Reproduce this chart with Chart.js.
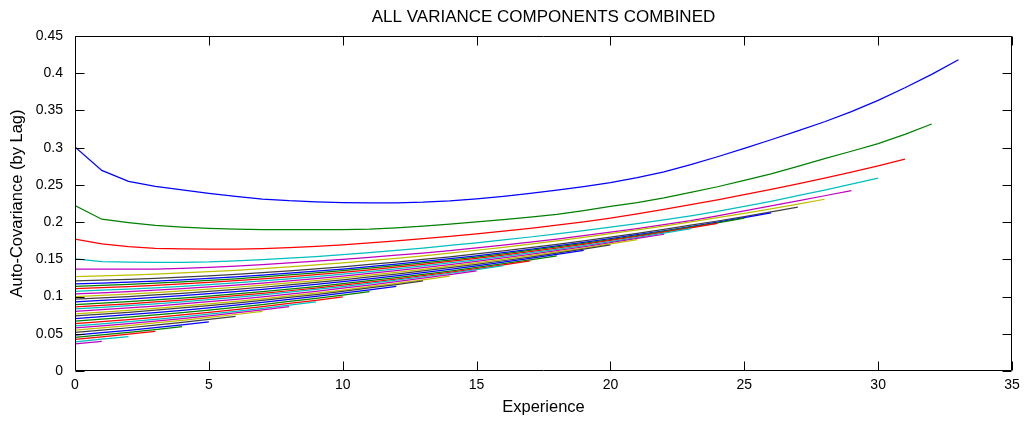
<!DOCTYPE html>
<html>
<head>
<meta charset="utf-8">
<script src="https://cdn.jsdelivr.net/npm/chart.js@4.4.1/dist/chart.umd.min.js"></script>
<style>
  html, body { margin: 0; padding: 0; background: #ffffff; }
  #wrap { width: 1027px; height: 422px; }
</style>
</head>
<body>
<div id="wrap"><canvas id="c" width="1027" height="422"></canvas></div>
<script>
// ---- data ----
const chartTitle = "ALL VARIANCE COMPONENTS COMBINED";
const xAxisLabel = "Experience";
const yAxisLabel = "Auto-Covariance (by Lag)";
const experience = [0,1,2,3,4,5,6,7,8,9,10,11,12,13,14,15,16,17,18,19,20,21,22,23,24,25,26,27,28,29,30,31,32,33];
const xTicks = [0,5,10,15,20,25,30,35];
const yTicks = [0,0.05,0.1,0.15,0.2,0.25,0.3,0.35,0.4,0.45];

const lag0 = [0.301,0.2695,0.2548,0.248,0.2433,0.2385,0.2345,0.231,0.2287,0.2272,0.2263,0.226,0.226,0.2268,0.2285,0.2312,0.2345,0.2385,0.243,0.2478,0.253,0.2598,0.2675,0.2772,0.2878,0.299,0.3106,0.3225,0.3348,0.3485,0.3635,0.3805,0.3985,0.418];
const lag1 = [0.2222,0.2039,0.1994,0.1955,0.1932,0.1915,0.1905,0.19,0.1898,0.1898,0.1898,0.1905,0.1922,0.1945,0.1972,0.2002,0.2035,0.2068,0.2105,0.2155,0.221,0.2262,0.2325,0.2398,0.2475,0.2562,0.2649,0.2748,0.2852,0.2952,0.3055,0.3178,0.3318];
const lag2 = [0.177,0.1707,0.1672,0.1648,0.164,0.1638,0.1638,0.1645,0.1658,0.1675,0.1695,0.172,0.1748,0.1778,0.1808,0.1842,0.1878,0.1916,0.1958,0.2004,0.2055,0.2112,0.2172,0.2235,0.23,0.2368,0.244,0.2515,0.2592,0.2672,0.2756,0.2845];
const lag3 = [0.1505,0.147,0.1462,0.146,0.146,0.1465,0.1478,0.1495,0.1515,0.1538,0.1563,0.159,0.162,0.1652,0.1686,0.1722,0.176,0.18,0.1842,0.1886,0.1932,0.198,0.2031,0.2085,0.2145,0.221,0.228,0.2355,0.243,0.251,0.259];
const lag4 = [0.137,0.1368,0.1367,0.1369,0.1378,0.1392,0.141,0.143,0.1452,0.1476,0.15,0.1527,0.1555,0.1585,0.1618,0.1653,0.169,0.173,0.1772,0.1817,0.1864,0.1913,0.1965,0.202,0.2085,0.215,0.2217,0.2285,0.2354,0.2424];
const lag5 = [0.1268,0.1277,0.1288,0.1301,0.1317,0.1334,0.1353,0.1375,0.1399,0.1424,0.1452,0.1482,0.1514,0.1548,0.1584,0.1622,0.1662,0.1705,0.1749,0.1795,0.1844,0.1895,0.1947,0.2002,0.2059,0.2118,0.2179,0.2242,0.2307];
const lag6 = [0.121,0.122,0.1231,0.1245,0.1261,0.1279,0.1299,0.1321,0.1346,0.1371,0.14,0.1431,0.1463,0.1498,0.1534,0.1573,0.1614,0.1657,0.1702,0.1748,0.1798,0.185,0.1902,0.1958,0.2015,0.2075,0.2137,0.22];
const lag7 = [0.117,0.1181,0.1193,0.1208,0.1225,0.1244,0.1265,0.1288,0.1314,0.134,0.137,0.1402,0.1435,0.1471,0.1508,0.1548,0.159,0.1634,0.168,0.1727,0.1778,0.1831,0.1884,0.1941,0.1999,0.206,0.2123];
const lag8 = [0.1138,0.115,0.1163,0.1179,0.1197,0.1217,0.1239,0.1263,0.129,0.1317,0.1348,0.1381,0.1415,0.1452,0.149,0.1531,0.1574,0.1619,0.1666,0.1714,0.1766,0.182,0.1874,0.1932,0.1991,0.2053];
const lag9 = [0.1106,0.1119,0.1133,0.115,0.1169,0.119,0.1213,0.1238,0.1266,0.1294,0.1326,0.136,0.1395,0.1433,0.1472,0.1514,0.1558,0.1604,0.1652,0.1701,0.1754,0.1809,0.1864,0.1923,0.1983];
const lag10 = [0.1071,0.1085,0.11,0.1118,0.1138,0.116,0.1184,0.121,0.1239,0.1268,0.1301,0.1336,0.1372,0.1411,0.1451,0.1494,0.1539,0.1586,0.1635,0.1685,0.1739,0.1795,0.1851,0.1911];
const lag11 = [0.1035,0.105,0.1066,0.1085,0.1106,0.1129,0.1154,0.1181,0.1211,0.1241,0.1275,0.1311,0.1348,0.1388,0.1429,0.1473,0.1519,0.1567,0.1617,0.1668,0.1723,0.178,0.1837];
const lag12 = [0.1,0.1016,0.1033,0.1053,0.1075,0.1099,0.1125,0.1153,0.1184,0.1215,0.125,0.1287,0.1325,0.1366,0.1408,0.1453,0.15,0.1549,0.16,0.1652,0.1708,0.1766];
const lag13 = [0.0965,0.0982,0.1,0.1021,0.1044,0.1069,0.1096,0.1125,0.1157,0.1189,0.1225,0.1263,0.1302,0.1344,0.1387,0.1433,0.1481,0.1531,0.1583,0.1636,0.1693];
const lag14 = [0.093,0.0948,0.0967,0.0989,0.1013,0.1039,0.1067,0.1097,0.113,0.1163,0.12,0.1239,0.1279,0.1322,0.1366,0.1413,0.1462,0.1513,0.1566,0.162];
const lag15 = [0.0893,0.0912,0.0932,0.0955,0.098,0.1007,0.1036,0.1067,0.1101,0.1135,0.1173,0.1213,0.1254,0.1298,0.1343,0.1391,0.1441,0.1493,0.1547];
const lag16 = [0.0862,0.0882,0.0903,0.0927,0.0953,0.0981,0.1011,0.1043,0.1078,0.1113,0.1152,0.1193,0.1235,0.128,0.1326,0.1375,0.1426,0.1479];
const lag17 = [0.0835,0.0856,0.0878,0.0903,0.093,0.0959,0.099,0.1023,0.1059,0.1095,0.1135,0.1177,0.122,0.1266,0.1313,0.1363,0.1415];
const lag18 = [0.0802,0.0824,0.0847,0.0873,0.0901,0.0931,0.0963,0.0997,0.1034,0.1071,0.1112,0.1155,0.1199,0.1246,0.1294,0.1345];
const lag19 = [0.0768,0.0791,0.0815,0.0842,0.0871,0.0902,0.0935,0.097,0.1008,0.1046,0.1088,0.1132,0.1177,0.1225,0.1274];
const lag20 = [0.074,0.0764,0.0789,0.0817,0.0847,0.0879,0.0913,0.0949,0.0988,0.1027,0.107,0.1115,0.1161,0.121];
const lag21 = [0.0705,0.073,0.0756,0.0785,0.0816,0.0849,0.0884,0.0921,0.0961,0.1001,0.1045,0.1091,0.1138];
const lag22 = [0.067,0.0696,0.0723,0.0753,0.0785,0.0819,0.0855,0.0893,0.0934,0.0975,0.102,0.1067];
const lag23 = [0.0635,0.0662,0.069,0.0721,0.0754,0.0789,0.0826,0.0865,0.0907,0.0949,0.0995];
const lag24 = [0.0605,0.0633,0.0662,0.0694,0.0728,0.0764,0.0802,0.0842,0.0885,0.0928];
const lag25 = [0.0578,0.0607,0.0637,0.067,0.0705,0.0742,0.0781,0.0822,0.0866];
const lag26 = [0.055,0.058,0.0611,0.0645,0.0681,0.0719,0.0759,0.0801];
const lag27 = [0.0518,0.0549,0.0581,0.0616,0.0653,0.0692,0.0733];
const lag28 = [0.0482,0.0514,0.0547,0.0583,0.0621,0.0661];
const lag29 = [0.0453,0.0486,0.052,0.0557,0.0596];
const lag30 = [0.0425,0.0459,0.0494,0.0532];
const lag31 = [0.0392,0.0427,0.0463];
const lag32 = [0.0363,0.0399];

const lagSeries = [lag0,lag1,lag2,lag3,lag4,lag5,lag6,lag7,lag8,lag9,lag10,lag11,lag12,lag13,lag14,lag15,lag16,lag17,lag18,lag19,lag20,lag21,lag22,lag23,lag24,lag25,lag26,lag27,lag28,lag29,lag30,lag31,lag32];
const lineColors = ['#0000ff','#008000','#ff0000','#00bfbf','#bf00bf','#bfbf00','#404040'];

// ---- chart ----
const FONT = '"Liberation Sans", Arial, Helvetica, sans-serif';

const datasets = lagSeries.map((vals, k) => ({
  label: 'Lag ' + k,
  data: vals.map((v, i) => ({ x: experience[i], y: v })),
  borderColor: lineColors[k % lineColors.length],
  backgroundColor: lineColors[k % lineColors.length],
  borderWidth: 1.25,
  pointRadius: 0,
  tension: 0,
  fill: false,
  order: 100 - k
}));

const boxTicks = {
  id: 'boxTicks',
  afterDraw(chart) {
    const { ctx, chartArea: a, scales } = chart;
    const xs = scales.x, ys = scales.y;
    const L = Math.round(a.left) + 0.5, R = Math.round(a.right) - 0.5;
    const T = Math.round(a.top) + 0.5, B = Math.round(a.bottom) - 0.5;
    ctx.save();
    ctx.strokeStyle = '#000000';
    ctx.lineWidth = 1;
    ctx.beginPath();
    ctx.rect(L, T, R - L, B - T);
    const tl = 9;
    xTicks.forEach(v => {
      const p = Math.round(xs.getPixelForValue(v)) + 0.5;
      ctx.moveTo(p, B); ctx.lineTo(p, B - tl);
      ctx.moveTo(p, T); ctx.lineTo(p, T + tl);
    });
    yTicks.forEach(v => {
      const p = Math.round(ys.getPixelForValue(v)) + 0.5;
      ctx.moveTo(L, p); ctx.lineTo(L + tl, p);
      ctx.moveTo(R, p); ctx.lineTo(R - tl, p);
    });
    ctx.stroke();
    ctx.restore();
  }
};

new Chart(document.getElementById('c'), {
  type: 'line',
  data: { datasets },
  options: {
    responsive: false,
    animation: false,
    devicePixelRatio: 1,
    layout: { padding: { left: 0, right: 15, top: 0, bottom: 0 } },
    plugins: {
      legend: { display: false },
      tooltip: { enabled: false },
      title: {
        display: true,
        fullSize: false,
        text: chartTitle,
        color: '#000000',
        font: { family: FONT, size: 17, weight: 'normal' },
        padding: { top: 7, bottom: 8.6 }
      }
    },
    scales: {
      x: {
        type: 'linear',
        min: 0, max: 35,
        afterBuildTicks(scale) { scale.ticks = xTicks.map(v => ({ value: v })); },
        afterFit(scale) { scale.height = 51; },
        grid: { display: false, drawTicks: false },
        border: { display: false },
        ticks: {
          color: '#000000',
          padding: 6,
          maxRotation: 0,
          font: { family: FONT, size: 14 },
          callback: v => String(v)
        },
        title: {
          display: true,
          text: xAxisLabel,
          color: '#000000',
          font: { family: FONT, size: 16.5 },
          padding: { top: 2, bottom: 5 }
        }
      },
      y: {
        type: 'linear',
        min: 0, max: 0.45,
        afterBuildTicks(scale) { scale.ticks = yTicks.map(v => ({ value: v })); },
        afterFit(scale) { scale.width = 75; },
        grid: { display: false, drawTicks: false },
        border: { display: false },
        ticks: {
          color: '#000000',
          padding: 12,
          font: { family: FONT, size: 14 },
          callback: v => String(+v.toFixed(2))
        },
        title: {
          display: true,
          text: yAxisLabel,
          color: '#000000',
          font: { family: FONT, size: 16.5 },
          padding: { top: 8, bottom: 0 }
        }
      }
    }
  },
  plugins: [boxTicks]
});
</script>
</body>
</html>
